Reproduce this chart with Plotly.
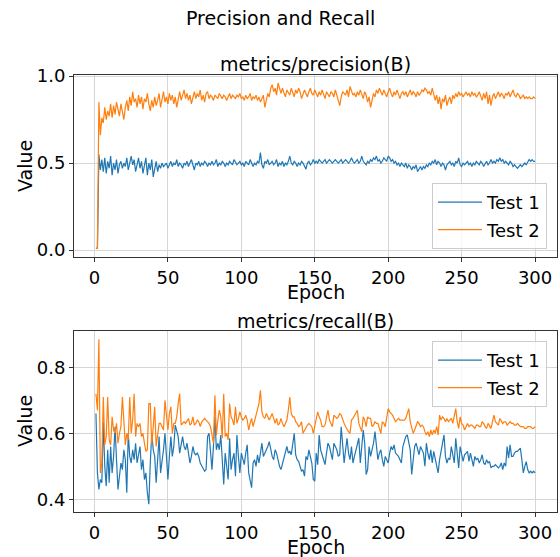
import plotly.graph_objects as go

epochs = list(range(1, 301))

precision_test1 = [
    0.01, 0.01, 0.55, 0.46, 0.52, 0.45, 0.53, 0.44, 0.51, 0.47,
    0.54, 0.43, 0.50, 0.46, 0.52, 0.44, 0.49, 0.51, 0.47, 0.50,
    0.48, 0.53, 0.46, 0.51, 0.54, 0.49, 0.52, 0.45, 0.50, 0.53,
    0.47, 0.51, 0.44, 0.49, 0.53, 0.43, 0.50, 0.46, 0.52, 0.42,
    0.48, 0.51, 0.45, 0.49, 0.47, 0.50, 0.48, 0.49, 0.50, 0.47,
    0.49, 0.51, 0.48, 0.50, 0.49, 0.52, 0.48, 0.50, 0.49, 0.47,
    0.50, 0.49, 0.51, 0.48, 0.50, 0.52, 0.49, 0.46, 0.50, 0.49,
    0.51, 0.48, 0.50, 0.49, 0.51, 0.50, 0.48, 0.50, 0.49, 0.51,
    0.49, 0.50, 0.52, 0.48, 0.50, 0.49, 0.51, 0.50, 0.48, 0.50,
    0.49, 0.51, 0.50, 0.49, 0.52, 0.50, 0.49, 0.50, 0.51, 0.49,
    0.50, 0.48, 0.51, 0.50, 0.49, 0.52, 0.50, 0.48, 0.50, 0.49,
    0.51, 0.50, 0.56, 0.49, 0.47, 0.51, 0.50, 0.52, 0.49, 0.50,
    0.51, 0.49, 0.50, 0.52, 0.48, 0.50, 0.49, 0.51, 0.48, 0.50,
    0.49, 0.51, 0.54, 0.50, 0.49, 0.51, 0.50, 0.48, 0.50, 0.49,
    0.51, 0.50, 0.48, 0.465, 0.50, 0.51, 0.49, 0.50, 0.52, 0.50,
    0.51, 0.50, 0.52, 0.51, 0.50, 0.51, 0.52, 0.50, 0.51, 0.52,
    0.51, 0.50, 0.51, 0.52, 0.51, 0.50, 0.51, 0.52, 0.50, 0.51,
    0.52, 0.51, 0.50, 0.51, 0.53, 0.51, 0.50, 0.51, 0.52, 0.50,
    0.51, 0.54, 0.51, 0.50, 0.49, 0.51, 0.50, 0.52, 0.51, 0.53,
    0.52, 0.54, 0.51, 0.52, 0.50, 0.51, 0.53, 0.52, 0.51, 0.54,
    0.53, 0.51, 0.52, 0.50, 0.51, 0.49, 0.50, 0.48, 0.50, 0.49,
    0.48, 0.50, 0.47, 0.49, 0.48, 0.46, 0.48, 0.47, 0.49, 0.45,
    0.47, 0.48, 0.46, 0.48, 0.47, 0.49, 0.48, 0.50, 0.49, 0.51,
    0.50, 0.52, 0.49, 0.51, 0.50, 0.48, 0.50, 0.49, 0.46, 0.49,
    0.50, 0.51, 0.49, 0.50, 0.48, 0.51, 0.50, 0.53, 0.49, 0.48,
    0.50, 0.49, 0.50, 0.51, 0.49, 0.50, 0.48, 0.50, 0.49, 0.51,
    0.50, 0.49, 0.51, 0.50, 0.48, 0.50, 0.51, 0.49, 0.50, 0.52,
    0.50, 0.51, 0.50, 0.52, 0.51, 0.53, 0.51, 0.52, 0.50, 0.51,
    0.50, 0.49, 0.51, 0.50, 0.48, 0.49, 0.48, 0.47, 0.48, 0.49,
    0.48, 0.49, 0.50, 0.49, 0.51, 0.52, 0.51, 0.52, 0.51, 0.51,
]

precision_test2 = [
    0.01, 0.01, 0.85, 0.66, 0.76, 0.73, 0.82, 0.75, 0.80, 0.77,
    0.84, 0.76, 0.83, 0.78, 0.85, 0.80, 0.77, 0.84, 0.79, 0.75,
    0.82, 0.86, 0.80, 0.88, 0.83, 0.91, 0.85, 0.87, 0.82, 0.89,
    0.84, 0.88, 0.81, 0.87, 0.85, 0.90, 0.84, 0.80, 0.86, 0.82,
    0.88, 0.83, 0.86, 0.90, 0.82, 0.87, 0.91, 0.85, 0.88, 0.84,
    0.90, 0.86, 0.89, 0.84, 0.88, 0.82, 0.87, 0.91, 0.86, 0.89,
    0.92, 0.87, 0.90, 0.86, 0.89, 0.84, 0.88, 0.91, 0.87, 0.90,
    0.88, 0.92, 0.86, 0.89, 0.85, 0.90, 0.91, 0.87, 0.89, 0.88,
    0.86, 0.89, 0.88, 0.87, 0.90, 0.88, 0.87, 0.89, 0.88, 0.86,
    0.88, 0.90, 0.87, 0.89, 0.88, 0.87, 0.89, 0.88, 0.90, 0.87,
    0.88, 0.86, 0.89, 0.87, 0.88, 0.90, 0.86, 0.88, 0.87, 0.89,
    0.86, 0.88, 0.85, 0.87, 0.89, 0.82, 0.87, 0.90, 0.88, 0.93,
    0.95, 0.91, 0.93, 0.89, 0.96, 0.92, 0.90, 0.93, 0.91, 0.88,
    0.92, 0.90, 0.89, 0.93, 0.91, 0.88, 0.92, 0.90, 0.93, 0.91,
    0.87, 0.89, 0.92, 0.90, 0.88, 0.91, 0.93, 0.90, 0.89, 0.92,
    0.90, 0.88, 0.91, 0.89, 0.92, 0.90, 0.87, 0.91, 0.89, 0.88,
    0.91, 0.90, 0.88, 0.92, 0.89, 0.86, 0.83, 0.88, 0.91, 0.90,
    0.89, 0.92, 0.88, 0.94, 0.91, 0.89, 0.90, 0.88, 0.91, 0.89,
    0.92, 0.90, 0.87, 0.91, 0.89, 0.85, 0.88, 0.82, 0.87, 0.90,
    0.88, 0.92, 0.90, 0.93, 0.91, 0.89, 0.92, 0.90, 0.88, 0.91,
    0.93, 0.90, 0.88, 0.91, 0.89, 0.92, 0.90, 0.87, 0.90, 0.91,
    0.89, 0.91, 0.88, 0.90, 0.92, 0.89, 0.91, 0.90, 0.88, 0.91,
    0.89, 0.90, 0.92, 0.91, 0.93, 0.92, 0.90, 0.91, 0.89, 0.93,
    0.90, 0.86, 0.89, 0.84, 0.88, 0.81, 0.87, 0.85, 0.89, 0.83,
    0.86, 0.88, 0.84, 0.89, 0.87, 0.90, 0.88, 0.91, 0.89, 0.90,
    0.88, 0.90, 0.91, 0.89, 0.90, 0.88, 0.91, 0.89, 0.90, 0.88,
    0.89, 0.91, 0.88, 0.86, 0.90, 0.87, 0.91, 0.84, 0.89, 0.83,
    0.88, 0.90, 0.87, 0.89, 0.91, 0.88, 0.90, 0.89, 0.87, 0.90,
    0.89, 0.91, 0.88, 0.90, 0.92, 0.89, 0.88, 0.90, 0.89, 0.87,
    0.88, 0.89, 0.87, 0.88, 0.87, 0.88, 0.87, 0.87, 0.88, 0.87,
]

recall_test1 = [
    0.66, 0.48, 0.43, 0.46, 0.45, 0.635, 0.50, 0.44, 0.55, 0.45,
    0.56, 0.48, 0.53, 0.62, 0.52, 0.43, 0.47, 0.51, 0.49, 0.55,
    0.52, 0.42, 0.60, 0.53, 0.51, 0.55, 0.52, 0.57, 0.51, 0.54,
    0.56, 0.49, 0.52, 0.46, 0.48, 0.42, 0.385, 0.51, 0.60, 0.55,
    0.53, 0.45, 0.52, 0.59, 0.48, 0.51, 0.55, 0.60, 0.52, 0.46,
    0.53, 0.59, 0.53, 0.56, 0.625, 0.61, 0.59, 0.54, 0.57, 0.59,
    0.56, 0.55, 0.57, 0.54, 0.51, 0.53, 0.56, 0.54, 0.535, 0.54,
    0.53, 0.51, 0.50, 0.49, 0.485, 0.49, 0.59, 0.60, 0.55, 0.49,
    0.56, 0.65, 0.55, 0.57, 0.55, 0.595, 0.52, 0.445, 0.54, 0.50,
    0.46, 0.585, 0.49, 0.52, 0.54, 0.47, 0.595, 0.53, 0.48, 0.54,
    0.52, 0.505, 0.54, 0.565, 0.48, 0.46, 0.435, 0.51, 0.52, 0.50,
    0.535, 0.51, 0.55, 0.57, 0.53, 0.54, 0.545, 0.56, 0.575, 0.55,
    0.53, 0.52, 0.55, 0.54, 0.515, 0.50, 0.49, 0.51, 0.53, 0.54,
    0.56, 0.54, 0.545, 0.535, 0.57, 0.60, 0.535, 0.52, 0.515, 0.50,
    0.485, 0.49, 0.47, 0.53, 0.52, 0.55, 0.53, 0.51, 0.46, 0.455,
    0.54, 0.505, 0.595, 0.55, 0.535, 0.52, 0.505, 0.54, 0.57, 0.56,
    0.54, 0.52, 0.57, 0.56, 0.55, 0.53, 0.535, 0.62, 0.57, 0.51,
    0.55, 0.585, 0.54, 0.52, 0.56, 0.51, 0.53, 0.55, 0.57, 0.585,
    0.51, 0.56, 0.61, 0.57, 0.475, 0.49, 0.56, 0.53, 0.55, 0.57,
    0.605, 0.56, 0.52, 0.54, 0.55, 0.52, 0.50, 0.53, 0.52, 0.51,
    0.54, 0.56, 0.55, 0.565, 0.54, 0.535, 0.53, 0.52, 0.51, 0.56,
    0.575, 0.59, 0.595, 0.57, 0.55, 0.475, 0.52, 0.56, 0.57, 0.55,
    0.535, 0.56, 0.55, 0.54, 0.50, 0.57, 0.54, 0.52, 0.55, 0.51,
    0.545, 0.52, 0.495, 0.48, 0.52, 0.55, 0.58, 0.595, 0.53, 0.51,
    0.525, 0.52, 0.56, 0.54, 0.51, 0.585, 0.53, 0.495, 0.56, 0.54,
    0.515, 0.535, 0.54, 0.545, 0.515, 0.54, 0.52, 0.50, 0.53, 0.52,
    0.525, 0.51, 0.52, 0.535, 0.51, 0.505, 0.52, 0.51, 0.515, 0.495,
    0.50, 0.50, 0.505, 0.50, 0.495, 0.50, 0.51, 0.49, 0.51, 0.50,
    0.56, 0.525, 0.565, 0.53, 0.53, 0.54, 0.545, 0.545, 0.55, 0.555,
    0.52, 0.48, 0.50, 0.514, 0.49, 0.48, 0.485, 0.48, 0.485, 0.48,
]

recall_test2 = [
    0.72, 0.67, 0.885, 0.48, 0.51, 0.71, 0.565, 0.59, 0.71, 0.58,
    0.565, 0.65, 0.61, 0.60, 0.63, 0.57, 0.60, 0.62, 0.71, 0.64,
    0.565, 0.60, 0.58, 0.71, 0.60, 0.64, 0.72, 0.59, 0.63, 0.62,
    0.63, 0.59, 0.60, 0.57, 0.545, 0.55, 0.69, 0.69, 0.565, 0.62,
    0.68, 0.56, 0.60, 0.63, 0.63, 0.62, 0.61, 0.70, 0.64, 0.61,
    0.66, 0.68, 0.60, 0.63, 0.63, 0.65, 0.69, 0.72, 0.625, 0.63,
    0.635, 0.63, 0.64, 0.645, 0.625, 0.63, 0.65, 0.625, 0.63, 0.64,
    0.635, 0.62, 0.635, 0.64, 0.645, 0.64, 0.635, 0.63, 0.62, 0.60,
    0.57, 0.715, 0.595, 0.64, 0.67, 0.65, 0.585, 0.72, 0.59, 0.60,
    0.58, 0.69, 0.65, 0.64, 0.625, 0.68, 0.63, 0.645, 0.665, 0.65,
    0.64, 0.645, 0.655, 0.64, 0.61, 0.63, 0.645, 0.62, 0.64, 0.66,
    0.67, 0.69, 0.73, 0.665, 0.65, 0.645, 0.66, 0.65, 0.64, 0.65,
    0.66, 0.645, 0.63, 0.645, 0.625, 0.63, 0.645, 0.63, 0.62, 0.63,
    0.64, 0.67, 0.71, 0.66, 0.65, 0.65, 0.635, 0.63, 0.62, 0.625,
    0.635, 0.60, 0.61, 0.62, 0.625, 0.63, 0.625, 0.62, 0.60, 0.62,
    0.635, 0.665, 0.65, 0.64, 0.62, 0.62, 0.625, 0.645, 0.67, 0.64,
    0.63, 0.62, 0.655, 0.65, 0.645, 0.65, 0.66, 0.655, 0.64, 0.63,
    0.62, 0.61, 0.605, 0.60, 0.64, 0.645, 0.655, 0.66, 0.67, 0.63,
    0.62, 0.605, 0.65, 0.64, 0.62, 0.65, 0.645, 0.645, 0.62, 0.625,
    0.635, 0.63, 0.63, 0.615, 0.60, 0.635, 0.63, 0.62, 0.645, 0.675,
    0.665, 0.66, 0.655, 0.645, 0.635, 0.64, 0.645, 0.64, 0.64, 0.64,
    0.64, 0.645, 0.66, 0.675, 0.635, 0.615, 0.60, 0.61, 0.62, 0.635,
    0.63, 0.62, 0.625, 0.62, 0.605, 0.595, 0.605, 0.59, 0.61, 0.595,
    0.61, 0.60, 0.62, 0.595, 0.655, 0.64, 0.65, 0.645, 0.635, 0.645,
    0.635, 0.64, 0.645, 0.63, 0.65, 0.675, 0.635, 0.615, 0.65, 0.63,
    0.625, 0.61, 0.62, 0.63, 0.62, 0.625, 0.625, 0.62, 0.615, 0.625,
    0.625, 0.62, 0.62, 0.635, 0.63, 0.62, 0.615, 0.63, 0.62, 0.615,
    0.635, 0.655, 0.635, 0.63, 0.625, 0.645, 0.635, 0.63, 0.635, 0.635,
    0.625, 0.63, 0.635, 0.63, 0.63, 0.625, 0.625, 0.63, 0.625, 0.62,
    0.62, 0.62, 0.615, 0.615, 0.62, 0.62, 0.62, 0.615, 0.615, 0.62,
]

series_names = ["Test 1", "Test 2"]
colors = ["#1f77b4", "#ff7f0e"]
x_ticks = [0, 50, 100, 150, 200, 250, 300]
top_y_ticks = [0.0, 0.5, 1.0]
bottom_y_ticks = [0.4, 0.6, 0.8]

W, H = 560, 557
FONT = "DejaVu Sans"

fig = go.Figure()

for i, (name, ys) in enumerate(zip(series_names, [precision_test1, precision_test2])):
    fig.add_trace(go.Scatter(x=epochs, y=ys, mode="lines", name=name,
                             line=dict(color=colors[i], width=1.2),
                             xaxis="x", yaxis="y", legend="legend",
                             legendgroup="p" + str(i)))
for i, (name, ys) in enumerate(zip(series_names, [recall_test1, recall_test2])):
    fig.add_trace(go.Scatter(x=epochs, y=ys, mode="lines", name=name,
                             line=dict(color=colors[i], width=1.2),
                             xaxis="x2", yaxis="y2", legend="legend2",
                             legendgroup="r" + str(i)))

def px_x(p):
    return p / W

def px_y(p):
    return 1 - p / H

axis_common = dict(
    showline=True, linecolor="#333333", linewidth=1, mirror=True,
    showgrid=True, gridcolor="#d6d6d6", gridwidth=1,
    ticks="outside", ticklen=4, tickcolor="#333333",
    tickfont=dict(family=FONT, size=18, color="black"),
    zeroline=False, automargin=False,
)

legend_common = dict(
    xanchor="right", yanchor="top",
    bgcolor="rgba(255,255,255,0.8)", bordercolor="#cccccc", borderwidth=1,
    font=dict(family=FONT, size=18, color="black"),
    itemwidth=44, tracegroupgap=1,
)

xdom = [px_x(74), px_x(557)]
fig.update_layout(
    width=W, height=H, autosize=False,
    margin=dict(l=0, r=0, t=0, b=0, pad=0, autoexpand=False),
    paper_bgcolor="white", plot_bgcolor="white",
    font=dict(family=FONT, color="black"),
    xaxis=dict(domain=xdom, range=[-13.95, 314.95], tickvals=x_ticks,
               anchor="y", **axis_common),
    yaxis=dict(domain=[px_y(257), px_y(75)], range=[-0.04, 1.006],
               tickvals=top_y_ticks, tickformat=".1f", anchor="x", **axis_common),
    xaxis2=dict(domain=xdom, range=[-13.95, 314.95], tickvals=x_ticks,
                anchor="y2", **axis_common),
    yaxis2=dict(domain=[px_y(512), px_y(331)], range=[0.3615, 0.91],
                tickvals=bottom_y_ticks, tickformat=".1f", anchor="x2", **axis_common),
    legend=dict(x=px_x(547), y=px_y(183), **legend_common),
    legend2=dict(x=px_x(547), y=px_y(341), **legend_common),
    showlegend=True,
)

annotations = [
    dict(text="Precision and Recall", x=0.5, y=px_y(18), xref="paper", yref="paper",
         showarrow=False, font=dict(family=FONT, size=19, color="black"),
         xanchor="center", yanchor="middle"),
    dict(text="metrics/precision(B)", x=(xdom[0] + xdom[1]) / 2, y=px_y(64), xref="paper", yref="paper",
         showarrow=False, font=dict(family=FONT, size=19, color="black"),
         xanchor="center", yanchor="middle"),
    dict(text="metrics/recall(B)", x=(xdom[0] + xdom[1]) / 2, y=px_y(321), xref="paper", yref="paper",
         showarrow=False, font=dict(family=FONT, size=19, color="black"),
         xanchor="center", yanchor="middle"),
    dict(text="Epoch", x=(xdom[0] + xdom[1]) / 2, y=px_y(292), xref="paper", yref="paper",
         showarrow=False, font=dict(family=FONT, size=19, color="black"),
         xanchor="center", yanchor="middle"),
    dict(text="Epoch", x=(xdom[0] + xdom[1]) / 2, y=px_y(547), xref="paper", yref="paper",
         showarrow=False, font=dict(family=FONT, size=19, color="black"),
         xanchor="center", yanchor="middle"),
    dict(text="Value", x=px_x(25), y=px_y(166), xref="paper", yref="paper",
         showarrow=False, font=dict(family=FONT, size=19, color="black"),
         textangle=-90, xanchor="center", yanchor="middle"),
    dict(text="Value", x=px_x(25), y=px_y(421), xref="paper", yref="paper",
         showarrow=False, font=dict(family=FONT, size=19, color="black"),
         textangle=-90, xanchor="center", yanchor="middle"),
]
fig.update_layout(annotations=annotations)

fig.write_html("out.html",
               config={"displayModeBar": False},
               post_script="document.body.style.margin='0px';document.body.style.overflow='hidden';")
